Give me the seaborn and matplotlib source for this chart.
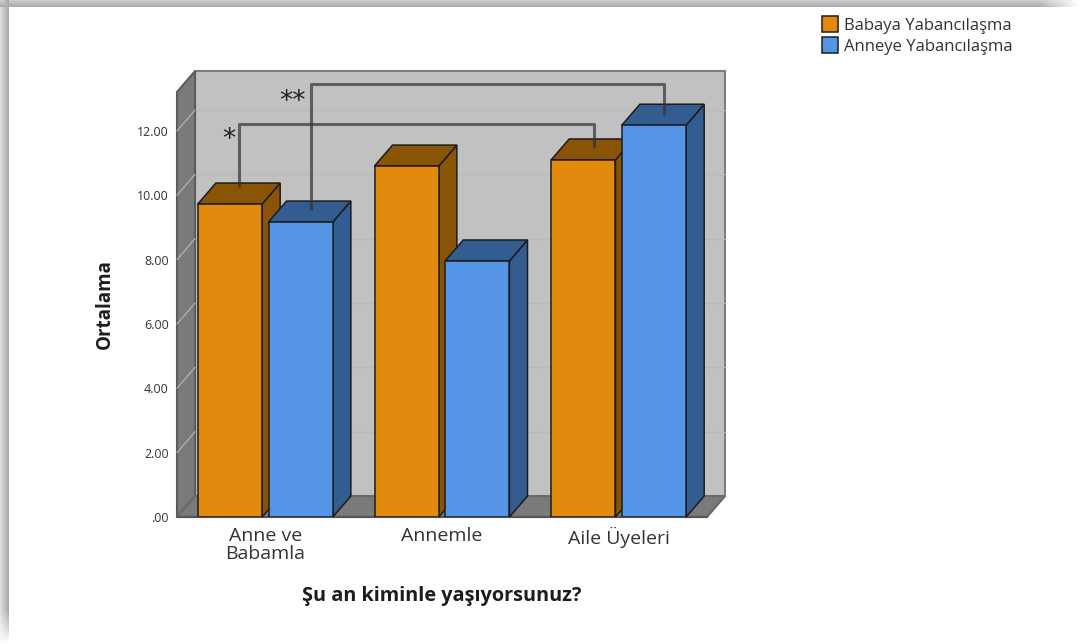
import numpy as np
import pandas as pd
import matplotlib
matplotlib.use("Agg")
import matplotlib.pyplot as plt
from matplotlib.patches import Polygon
import seaborn as sns

categories = ["Anne ve\nBabamla", "Annemle", "Aile Üyeleri"]
baba = [9.73, 10.91, 11.10]
anne = [9.17, 7.96, 12.18]
series_names = ["Babaya Yabancılaşma", "Anneye Yabancılaşma"]
y_ticks = [0, 2, 4, 6, 8, 10, 12]
y_tick_labels = [".00", "2.00", "4.00", "6.00", "8.00", "10.00", "12.00"]

# 3d look, depth of the box in data units
DX = 0.102
DY = 0.65
colors = ["#E28A0E", "#5495E5"]
side_colors = ["#8A5406", "#335C91"]

sns.set_style("white")
plt.rcParams["font.family"] = ["Open Sans", "DejaVu Sans"]

W, H = 1087, 644
fig = plt.figure(figsize=(W / 100, H / 100), dpi=100)

# grey frame along the top and left edge of the screenshot
bg = fig.add_axes([0, 0, 1, 1], zorder=0)
img = np.ones((H, W))
fade_x = np.clip((W - 8 - np.arange(W)) / 40, 0, 1)
fade_y = np.clip((H - np.arange(H)) / 35, 0, 1)
for i in range(7):
    img[i, :] = 1 - (0.20 + 0.022 * i) * fade_x
for i in range(9):
    img[:, i] = np.minimum(img[:, i], 1 - (0.14 + 0.025 * i) * fade_y)
bg.imshow(img, cmap="gray", vmin=0, vmax=1, aspect="auto")
bg.axis("off")

ax = fig.add_axes([177 / W, 1 - 517 / H, 530 / W, 425 / H], zorder=1)
ax.patch.set_alpha(0)

df = pd.DataFrame({
    "kim": categories * 2,
    "deger": baba + anne,
    "seri": [series_names[0]] * 3 + [series_names[1]] * 3,
})
sns.barplot(data=df, x="kim", y="deger", hue="seri", hue_order=series_names,
            palette=colors, saturation=1, width=0.8, gap=0.09, ax=ax,
            edgecolor="#1c1c1c", linewidth=1.1, errorbar=None)
ax.set_xlim(-0.5, 2.5)
ax.set_ylim(0, 13.21)

# walls
x0, x1 = ax.get_xlim()
y0, y1 = ax.get_ylim()
wall_kw = dict(clip_on=False, linewidth=1.5)
ax.add_patch(Polygon([(x0 + DX, y0 + DY), (x1 + DX, y0 + DY), (x1 + DX, y1 + DY), (x0 + DX, y1 + DY)],
                     facecolor="#C1C1C1", edgecolor="#7d7d7d", zorder=1, **wall_kw))
ax.add_patch(Polygon([(x0, y0), (x0 + DX, y0 + DY), (x0 + DX, y1 + DY), (x0, y1)],
                     facecolor="#7A7A7A", edgecolor="#5c5c5c", zorder=1.1, **wall_kw))
ax.add_patch(Polygon([(x0, y0), (x1, y0), (x1 + DX, y0 + DY), (x0 + DX, y0 + DY)],
                     facecolor="#7A7A7A", edgecolor="#6a6a6a", zorder=1.2, **wall_kw))
for t in y_ticks[1:]:
    ax.plot([x0 + DX, x1 + DX], [t + DY, t + DY], color="#B9B9B9", lw=0.9, zorder=1.05, clip_on=False)
    ax.plot([x0, x0 + DX], [t, t + DY], color="#B2B2B2", lw=0.9, zorder=1.15, clip_on=False)

# sides and tops of the bars, left to right so the next bar covers the last
bars = []
for s, cont in enumerate(ax.containers):
    for b in cont:
        bars.append((b.get_x(), b, s))
bars.sort(key=lambda r: r[0])
for n, (_, b, s) in enumerate(bars):
    bx, bw, bh = b.get_x(), b.get_width(), b.get_height()
    z = 2 + n
    ax.add_patch(Polygon([(bx + bw, 0), (bx + bw + DX, DY), (bx + bw + DX, bh + DY), (bx + bw, bh)],
                         facecolor=side_colors[s], edgecolor="#1c1c1c", lw=1.1, zorder=z, clip_on=False))
    ax.add_patch(Polygon([(bx, bh), (bx + bw, bh), (bx + bw + DX, bh + DY), (bx + DX, bh + DY)],
                         facecolor=side_colors[s], edgecolor="#1c1c1c", lw=1.1, zorder=z, clip_on=False))
    b.set_zorder(z + 0.5)

# significance brackets
line_kw = dict(color="#333333", alpha=0.7, lw=2.2, zorder=30, clip_on=False, solid_capstyle="butt")
top_x = [b.get_x() + b.get_width() / 2 + DX / 2 for _, b, _ in bars]
ax.plot([top_x[0], top_x[0], top_x[4] + 0.01, top_x[4] + 0.01], [10.26, 12.22, 12.22, 11.47], **line_kw)
ax.plot([top_x[1] + 0.006, top_x[1] + 0.006, top_x[5] + 0.006, top_x[5] + 0.006], [9.54, 13.46, 13.46, 12.50], **line_kw)
ax.text(top_x[0] - 0.06, 11.72, "*", fontsize=19, ha="center", va="center", color="#222222",
        family="DejaVu Sans", zorder=31)
ax.text(top_x[1] - 0.10, 12.9, "**", fontsize=19, ha="center", va="center", color="#222222",
        family="DejaVu Sans", zorder=31)

ax.set_yticks(y_ticks)
ax.set_yticklabels(y_tick_labels, fontsize=9, color="#333333")
ax.tick_params(axis="both", length=0)
ax.tick_params(axis="y", pad=6)
ax.tick_params(axis="x", pad=7)
for lab in ax.get_xticklabels():
    lab.set_fontsize(14)
    lab.set_color("#333333")
    lab.set_linespacing(1.0)
ax.set_ylabel("Ortalama", fontsize=13.5, fontweight="bold", color="#1c1c1c", labelpad=16)
ax.set_xlabel("Şu an kiminle yaşıyorsunuz?", fontsize=14.3, fontweight="bold", color="#1c1c1c", labelpad=17)
sns.despine(ax=ax, left=True, bottom=True, top=True, right=True)
ax.plot([x0, x1], [y0, y0], color="#555555", lw=1.5, zorder=1.3, clip_on=False)

sns.move_legend(ax, "upper left", bbox_to_anchor=(822 / W, 1 - 16.5 / H), bbox_transform=fig.transFigure,
                title=None, frameon=False, fontsize=12, handlelength=0.95, handleheight=1.05,
                handletextpad=0.4, labelspacing=0.2, borderpad=0, borderaxespad=0, labelcolor="#333333")

fig.savefig("out.png", dpi=100)
